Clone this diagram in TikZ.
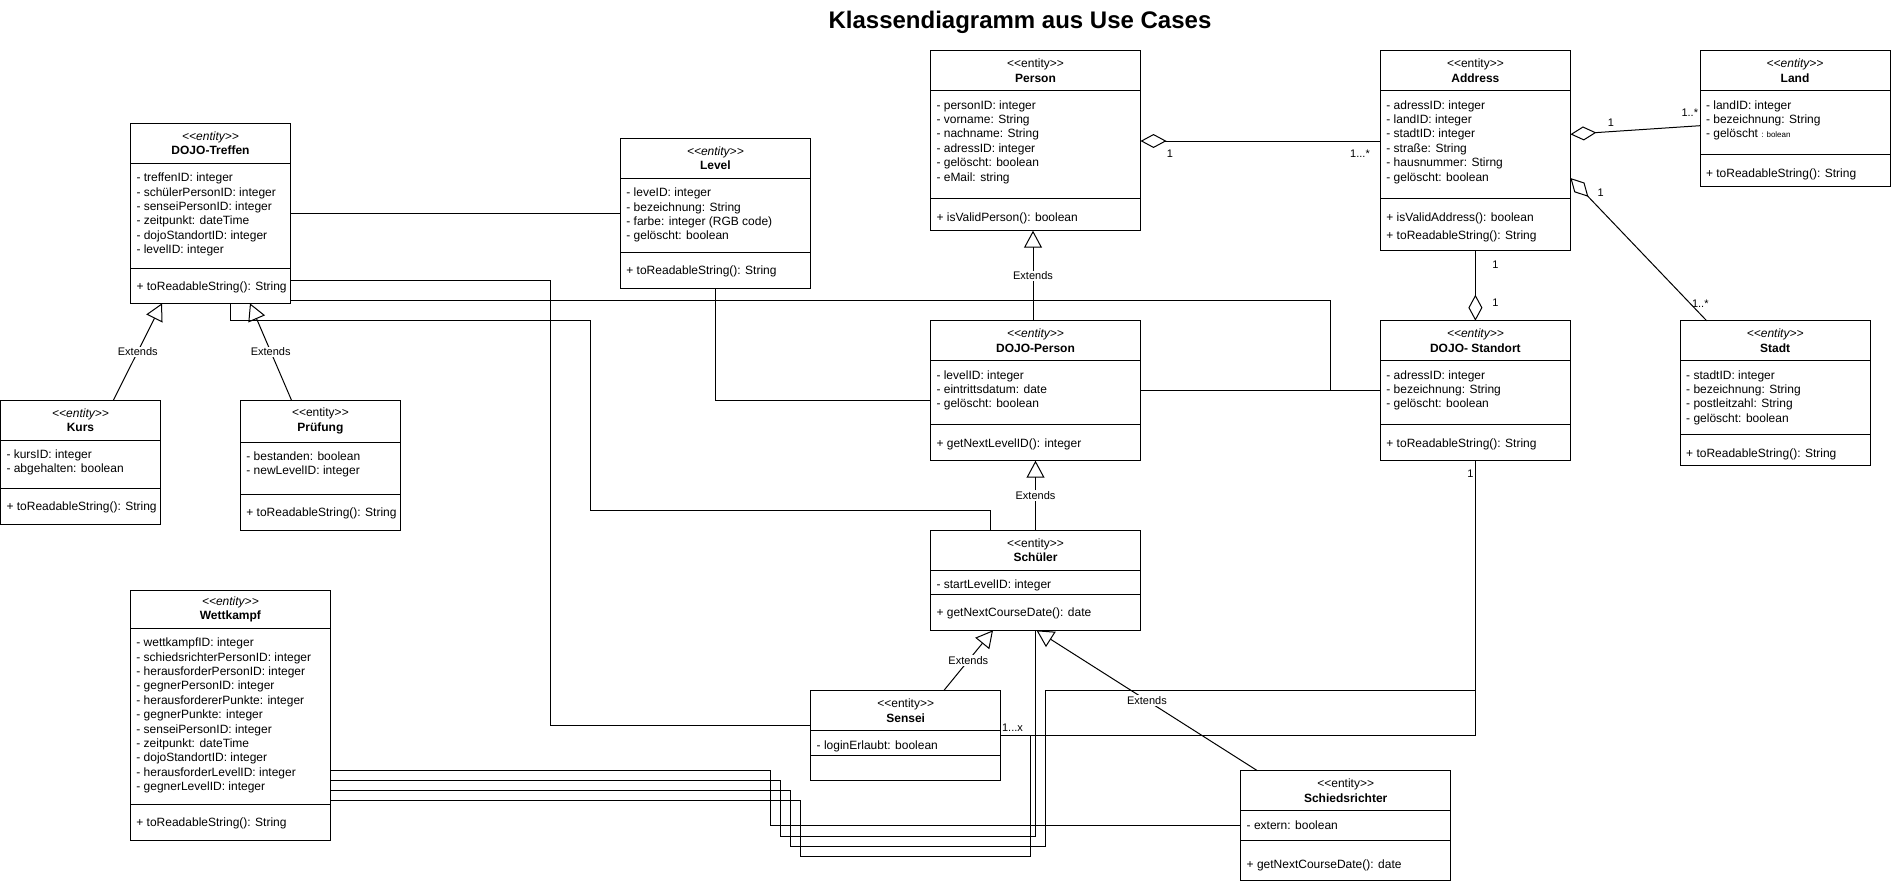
\documentclass[tikz,border=0pt]{standalone}
\usepackage{fontspec}
\setmainfont{Liberation Sans}[Ligatures=TeXOff]
\usetikzlibrary{arrows.meta,positioning}
\newcommand{\ent}{<<entity>>}
\newcommand{\cmpt}[4]{\parbox[t][#2pt][t]{#1pt}{\leftskip 6pt \rightskip 0pt plus 1fil \vspace*{#3pt}\strut #4}}
\begin{document}
\begin{tikzpicture}[x=1pt,y=-1pt,line width=1pt,font=\fontsize{12}{14.4}\selectfont,
  hd/.style={draw,anchor=north west,inner sep=0pt,outer sep=0pt,minimum height=40pt,align=center},
  cmp/.style={draw,inner sep=0pt,outer sep=0pt},
  ext/.style={-{Triangle[open,length=17pt,width=18pt]}},
  agg/.style={-{Diamond[open,length=26pt,width=14pt]}},
  lbl/.style={font=\fontsize{11}{13}\selectfont,inner sep=1pt},
  exlbl/.style={lbl,fill=white}]
\useasboundingbox (0,0) rectangle (1891,881);
\node[anchor=base] (title) at (1020,28.3) {\fontsize{24}{28}\selectfont\bfseries Klassendiagramm aus Use Cases};

\node[hd,minimum width=160pt] (treffen) at (130.5,123.3) {\textit{\ent}\\\textbf{DOJO-Treffen}};
\node[cmp,below=0pt of treffen] (treffen-a) {\cmpt{160}{105}{8.3}{- treffenID: integer\\- schülerPersonID: integer\\- senseiPersonID: integer\\- zeitpunkt: dateTime\\- dojoStandortID: integer\\- levelID: integer}};
\node[cmp,below=0pt of treffen-a] (treffen-m) {\cmpt{160}{35}{12.3}{+ toReadableString(): String}};

\node[hd,minimum width=160pt] (kurs) at (0.5,400) {\textit{\ent}\\\textbf{Kurs}};
\node[cmp,below=0pt of kurs] (kurs-a) {\cmpt{160}{48}{8.3}{- kursID: integer\\- abgehalten: boolean}};
\node[cmp,below=0pt of kurs-a] (kurs-m) {\cmpt{160}{36}{12.3}{+ toReadableString(): String}};

\node[hd,minimum width=160pt,minimum height=42pt] (pruefung) at (240.4,400) {\ent\\\textbf{Prüfung}};
\node[cmp,below=0pt of pruefung] (pruefung-a) {\cmpt{160}{52}{8.3}{- bestanden: boolean\\- newLevelID: integer}};
\node[cmp,below=0pt of pruefung-a] (pruefung-m) {\cmpt{160}{36}{12.3}{+ toReadableString(): String}};

\node[hd,minimum width=190pt] (level) at (620.4,138.3) {\textit{\ent}\\\textbf{Level}};
\node[cmp,below=0pt of level] (level-a) {\cmpt{190}{74}{8.3}{- leveID: integer\\- bezeichnung: String\\- farbe: integer (RGB code)\\- gelöscht: boolean}};
\node[cmp,below=0pt of level-a] (level-m) {\cmpt{190}{36}{12.3}{+ toReadableString(): String}};

\node[hd,minimum width=210pt] (person) at (930.5,50.7) {\ent\\\textbf{Person}};
\node[cmp,below=0pt of person] (person-a) {\cmpt{210}{108}{8.3}{- personID: integer\\- vorname: String\\- nachname: String\\- adressID: integer\\- gelöscht: boolean\\- eMail: string}};
\node[cmp,below=0pt of person-a] (person-m) {\cmpt{210}{32}{12.3}{+ isValidPerson(): boolean}};

\node[hd,minimum width=210pt] (dperson) at (930.5,320.7) {\textit{\ent}\\\textbf{DOJO-Person}};
\node[cmp,below=0pt of dperson] (dperson-a) {\cmpt{210}{64}{8.3}{- levelID: integer\\- eintrittsdatum: date\\- gelöscht: boolean}};
\node[cmp,below=0pt of dperson-a] (dperson-m) {\cmpt{210}{36}{12.3}{+ getNextLevelID(): integer}};

\node[hd,minimum width=210pt] (schueler) at (930.5,530.3) {\ent\\\textbf{Schüler}};
\node[cmp,below=0pt of schueler] (schueler-a) {\cmpt{210}{24}{8.3}{- startLevelID: integer}};
\node[cmp,below=0pt of schueler-a] (schueler-m) {\cmpt{210}{36}{12.3}{+ getNextCourseDate(): date}};

\node[hd,minimum width=190pt] (address) at (1380.4,50.7) {\ent\\\textbf{Address}};
\node[cmp,below=0pt of address] (address-a) {\cmpt{190}{108}{8.3}{- adressID: integer\\- landID: integer\\- stadtID: integer\\- straße: String\\- hausnummer: Stirng\\- gelöscht: boolean}};
\node[cmp,below=0pt of address-a] (address-m) {\cmpt{190}{52}{12.3}{+ isValidAddress(): boolean\\[3.6pt]+ toReadableString(): String}};

\node[hd,minimum width=190pt] (land) at (1700,50.7) {\textit{\ent}\\\textbf{Land}};
\node[cmp,below=0pt of land] (land-a) {\cmpt{190}{64}{8.3}{- landID: integer\\- bezeichnung: String\\- gelöscht {\fontsize{8}{9}\selectfont: bolean}}};
\node[cmp,below=0pt of land-a] (land-m) {\cmpt{190}{32}{12.3}{+ toReadableString(): String}};

\node[hd,minimum width=190pt] (standort) at (1380.4,320.7) {\textit{\ent}\\\textbf{DOJO- Standort}};
\node[cmp,below=0pt of standort] (standort-a) {\cmpt{190}{64}{8.3}{- adressID: integer\\- bezeichnung: String\\- gelöscht: boolean}};
\node[cmp,below=0pt of standort-a] (standort-m) {\cmpt{190}{36}{12.3}{+ toReadableString(): String}};

\node[hd,minimum width=190pt] (stadt) at (1680.2,320.7) {\textit{\ent}\\\textbf{Stadt}};
\node[cmp,below=0pt of stadt] (stadt-a) {\cmpt{190}{74}{8.3}{- stadtID: integer\\- bezeichnung: String\\- postleitzahl: String\\- gelöscht: boolean}};
\node[cmp,below=0pt of stadt-a] (stadt-m) {\cmpt{190}{31}{12.3}{+ toReadableString(): String}};

\node[hd,minimum width=190pt] (sensei) at (810.7,690.7) {\ent\\\textbf{Sensei}};
\node[cmp,below=0pt of sensei] (sensei-a) {\cmpt{190}{25}{8.3}{- loginErlaubt: boolean}};
\node[cmp,below=0pt of sensei-a] (sensei-m) {\cmpt{190}{25}{7.3}{}};

\node[hd,minimum width=210pt] (schieds) at (1240.7,770.7) {\ent\\\textbf{Schiedsrichter}};
\node[cmp,below=0pt of schieds] (schieds-a) {\cmpt{210}{30}{8.3}{- extern: boolean}};
\node[cmp,below=0pt of schieds-a] (schieds-m) {\cmpt{210}{39.7}{17.9}{+ getNextCourseDate(): date}};

\node[hd,minimum width=200pt,minimum height=38pt] (wett) at (130.4,590.3) {\textit{\ent}\\\textbf{Wettkampf}};
\node[cmp,below=0pt of wett] (wett-a) {\cmpt{200}{176}{8.3}{- wettkampfID: integer\\- schiedsrichterPersonID: integer\\- herausforderPersonID: integer\\- gegnerPersonID: integer\\- herausfordererPunkte: integer\\- gegnerPunkte: integer\\- senseiPersonID: integer\\- zeitpunkt: dateTime\\- dojoStandortID: integer\\- herausforderLevelID: integer\\- gegnerLevelID: integer}};
\node[cmp,below=0pt of wett-a] (wett-m) {\cmpt{200}{36}{12.3}{+ toReadableString(): String}};

\draw (treffen-a.east |- 0,213.3) -- (level-a.west |- 0,213.3);
\draw (treffen-m.east |- 0,280.3) -| (550,725.7) -- (sensei.west |- 0,725.7);
\draw (treffen-m.east |- 0,300.3) -| (1330.6,390) -- (standort-a.west |- 0,390);
\draw (treffen-m.south -| 230.5,0) |- (590.4,320.3) |- (990.5,510) -- (schueler.north -| 990.5,0);
\draw (level-m.south) |- (dperson-a.west |- 0,400);
\draw (dperson-a.east |- 0,390) -- (standort-a.west |- 0,390);
\draw (standort-m.south) |- (sensei-a.east |- 0,735.3);
\draw (wett-a.east |- 0,770.5) -| (770.5,0 |- schieds-a.west) -- (schieds-a.west);
\draw (wett-a.east |- 0,780.5) -| (780.5,836.3) -| (schueler-m.south);
\draw (wett-a.east |- 0,790.5) -| (790.5,846.3) -| (1045.5,690.3) -| (standort-m.south);
\draw (wett-a.east |- 0,800.5) -| (800.5,856.3) -| (1030.7,735.3) -- (sensei-a.east |- 0,735.3);

\draw[ext] (kurs.north -| 113.5,0) -- node[exlbl,midway] (ex1) {Extends} (treffen-m.south -| 162,0);
\draw[ext] (pruefung.north -| 291.4,0) -- node[exlbl,midway] (ex2) {Extends} (treffen-m.south -| 250,0);
\draw[ext] (dperson.north -| 1033,0) -- node[exlbl,midway] (ex3) {Extends} (person-m.south -| 1033,0);
\draw[ext] (schueler.north) -- node[exlbl,midway] (ex4) {Extends} (dperson-m.south);
\draw[ext] (sensei.north -| 943.7,0) -- node[exlbl,midway] (ex5) {Extends} (schueler-m.south -| 993,0);
\draw[ext] (schieds.north -| 1257.4,0) -- node[exlbl,midway] (ex6) {Extends} (schueler-m.south -| 1036.5,0);

\draw[agg] (address-a.west |- 0,141) -- (person-a.east |- 0,141);
\draw[agg] (land-a.west |- 0,125.7) -- (address-a.east |- 0,134.3);
\draw[agg] (stadt.north -| 1706.6,0) -- (address-a.east |- 0,178);
\draw[agg] (address-m.south) -- (standort.north);

\node[lbl] (m1) at (1170,153.3) {1};
\node[lbl] (m2) at (1360,153.3) {1...*};
\node[lbl] (m3) at (1610.8,122.7) {1};
\node[lbl] (m4) at (1689.8,112.7) {1..*};
\node[lbl] (m5) at (1600.7,192.7) {1};
\node[lbl] (m6) at (1700.3,303.3) {1..*};
\node[lbl] (m7) at (1495.4,265) {1};
\node[lbl] (m8) at (1495.4,302.7) {1};
\node[lbl] (m9) at (1470.5,473.3) {1};
\node[lbl] (m10) at (1012.5,727.3) {1...x};
\end{tikzpicture}
\end{document}
